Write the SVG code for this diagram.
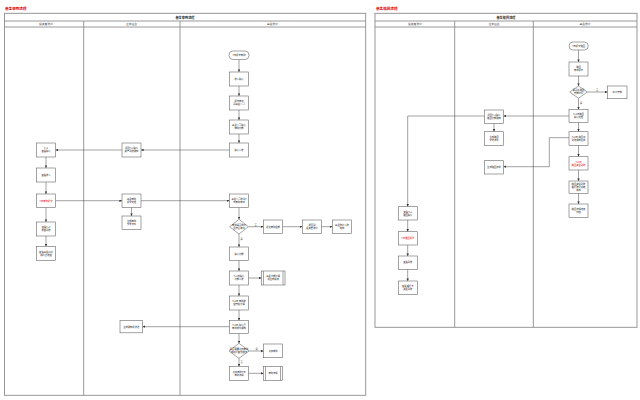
<svg xmlns="http://www.w3.org/2000/svg" width="640" height="400" viewBox="0 0 640 400">
<style>
text{font-family:"Noto Sans CJK SC","Noto Sans",sans-serif;fill:#222;text-anchor:middle}
.ttl{font-size:3.6px;fill:#e00000;text-anchor:start;font-weight:bold}
.hd{font-size:3.2px;font-weight:bold}
.ln{font-size:2.8px;fill:#444}
.t{font-size:2.3px}
.red{fill:#e00000}
.frame{fill:#fff;stroke:#8c8c8c;stroke-width:0.9}
.div{stroke:#8c8c8c;stroke-width:0.9}
.box{fill:#fff;stroke:#666;stroke-width:0.6}
.c{fill:none;stroke:#444;stroke-width:0.5;marker-end:url(#ah)}
.lb{font-size:2.2px;fill:#444}
</style>
<defs>
<marker id="ah" markerUnits="userSpaceOnUse" markerWidth="3" markerHeight="3" refX="2.6" refY="1.2" orient="auto">
<path d="M0,0 L2.6,1.2 L0,2.4 Z" fill="#333"/>
</marker>
</defs>
<rect width="640" height="400" fill="#fff"/>

<!-- Left swimlane frame -->
<g id="left-frame">
<text class="ttl" x="5" y="9.5">基金申购流程</text>
<rect class="frame" x="4.5" y="13.3" width="361.2" height="382"/>
<line class="div" x1="4.5" y1="21" x2="365.7" y2="21"/>
<line class="div" x1="4.5" y1="27" x2="365.7" y2="27"/>
<line class="div" x1="83.7" y1="21" x2="83.7" y2="395.3"/>
<line class="div" x1="180" y1="21" x2="180" y2="395.3"/>
<text class="hd" x="185" y="18.5">基金申购流程</text>
<text class="ln" x="46" y="25">投资者账户</text>
<text class="ln" x="131.5" y="25">业务后台</text>
<text class="ln" x="272.5" y="25">基金账户</text>
</g>

<!-- Right swimlane frame -->
<g id="right-frame">
<text class="ttl" x="376" y="9.5">基金赎回流程</text>
<rect class="frame" x="375" y="13.3" width="262" height="314"/>
<line class="div" x1="375" y1="21" x2="637" y2="21"/>
<line class="div" x1="375" y1="27" x2="637" y2="27"/>
<line class="div" x1="454.7" y1="21" x2="454.7" y2="327.3"/>
<line class="div" x1="533.3" y1="21" x2="533.3" y2="327.3"/>
<text class="hd" x="506" y="18.5">基金赎回流程</text>
<text class="ln" x="415" y="25">投资者账户</text>
<text class="ln" x="494" y="25">业务后台</text>
<text class="ln" x="585" y="25">基金账户</text>
</g>

<!-- Connectors -->
<g id="connectors">
<path class="c" d="M239,59.5 V72"/>
<path class="c" d="M239,86 V96"/>
<path class="c" d="M239,110 V120"/>
<path class="c" d="M239,134 V143"/>
<path class="c" d="M229.5,150 H141"/>
<path class="c" d="M122,150 H55.5"/>
<path class="c" d="M46,157 V168"/>
<path class="c" d="M46,182 V194"/>
<path class="c" d="M55.5,200.7 H122"/>
<path class="c" d="M141,200.7 H229.5"/>
<path class="c" d="M131.5,207.3 V216"/>
<path class="c" d="M46,207.3 V222"/>
<path class="c" d="M46,236 V246.5"/>
<path class="c" d="M239,207.3 V219.3"/>
<path class="c" d="M248.3,226.7 H263.5"/>
<path class="c" d="M282.5,226.7 H302.5"/>
<path class="c" d="M321.5,226.7 H332.5"/>
<path class="c" d="M239,234 V247"/>
<path class="c" d="M239,260.5 V271"/>
<path class="c" d="M248.5,278 H261.5"/>
<path class="c" d="M239,285 V296"/>
<path class="c" d="M239,310 V320.5"/>
<path class="c" d="M229.5,326.7 H142.5"/>
<path class="c" d="M239,333.3 V343.3"/>
<path class="c" d="M249,351 H263.5"/>
<path class="c" d="M239,358.3 V366.5"/>
<path class="c" d="M248.5,373.3 H263.5"/>
<text class="lb" x="255.5" y="225.8">否</text>
<text class="lb" x="241.5" y="240">是</text>
<text class="lb" x="256.5" y="350.2">是</text>
<text class="lb" x="241.5" y="362.5">否</text>

<path class="c" d="M578.5,50 V62"/>
<path class="c" d="M578.5,76 V86"/>
<path class="c" d="M587.3,92 H607.5"/>
<path class="c" d="M578.5,98.3 V109.5"/>
<path class="c" d="M569,116 H503.5"/>
<path class="c" d="M484.5,116 H407.7 V206.7"/>
<path class="c" d="M494,123 V131.7"/>
<path class="c" d="M578.5,122.5 V131.7"/>
<path class="c" d="M569,137.7 H549.3 V166.7 H503.5"/>
<path class="c" d="M578.5,145.3 V156.7"/>
<path class="c" d="M578.5,170 V181"/>
<path class="c" d="M578.5,193.5 V204"/>
<path class="c" d="M407.7,220 V231.7"/>
<path class="c" d="M407.7,245 V256"/>
<path class="c" d="M407.7,269.3 V281"/>
<text class="lb" x="597" y="91.2">否</text>
<text class="lb" x="581" y="104">是</text>
</g>

<!-- Left nodes -->
<g id="L-start"><rect class="box" x="229" y="51" width="20" height="8.5" rx="4"/><text class="t" x="239" y="56">T日提交申购</text></g>
<g id="L-b1"><rect class="box" x="229.5" y="72" width="19" height="14"/><text class="t" x="239" y="79.8">收入确认</text></g>
<g id="L-b2"><rect class="box" x="229.5" y="96" width="19" height="14"/><text class="t" x="239" y="102.4">提交申请</text><text class="t" x="239" y="105.4">到基金公司</text></g>
<g id="L-b3"><rect class="box" x="229.5" y="120" width="19" height="14"/><text class="t" x="239" y="126.4">基金公司确认</text><text class="t" x="239" y="129.4">申购份额</text></g>
<g id="L-b4"><rect class="box" x="229.5" y="143" width="19" height="14"/><text class="t" x="239" y="150.8">确认入账</text></g>
<g id="L-m1"><rect class="box" x="122" y="143" width="19" height="14"/><text class="t" x="131.5" y="149.4">返回T+1确认</text><text class="t" x="131.5" y="152.4">资产到账通知</text></g>
<g id="L-i1"><rect class="box" x="36.5" y="143" width="19" height="14"/><text class="t" x="46" y="149.4">T+1</text><text class="t" x="46" y="152.4">查看确认</text></g>
<g id="L-i2"><rect class="box" x="36.5" y="168" width="19" height="14"/><text class="t" x="46" y="175.8">查看收入</text></g>
<g id="L-i3"><rect class="box" x="36.5" y="194" width="19" height="13.3"/><text class="t red" x="46" y="201.5">T日申购提交</text></g>
<g id="L-i4"><rect class="box" x="36.5" y="222" width="19" height="14"/><text class="t" x="46" y="228.4">查看T+2</text><text class="t" x="46" y="231.4">收益到账</text></g>
<g id="L-i5"><rect class="box" x="36.5" y="246.5" width="19" height="13.8"/><text class="t" x="46" y="252.8">查看基金净值</text><text class="t" x="46" y="255.8">和持仓收益</text></g>
<g id="L-m2"><rect class="box" x="122" y="194" width="19" height="13.3"/><text class="t" x="131.5" y="200">基金申购</text><text class="t" x="131.5" y="203">提交处理</text></g>
<g id="L-m3"><rect class="box" x="122" y="216" width="19" height="13.3"/><text class="t" x="131.5" y="222">生成申购</text><text class="t" x="131.5" y="225">交易流水</text></g>
<g id="L-b5"><rect class="box" x="229.5" y="194" width="19" height="13.3"/><text class="t" x="239" y="200">基金公司收到T</text><text class="t" x="239" y="203">日申购申请</text></g>
<g id="L-d1"><path class="box" d="M239,219.3 L248.3,226.7 L239,234 L229.7,226.7 Z"/><text class="t" x="239" y="226">申购是否成功</text><text class="t" x="239" y="229">且符合条件</text></g>
<g id="L-b6"><rect class="box" x="263.5" y="220" width="19" height="13.3"/><text class="t" x="273" y="227.5">返还申购金额</text></g>
<g id="L-b7"><rect class="box" x="302.5" y="220" width="19" height="13.3"/><text class="t" x="312" y="226">退回到</text><text class="t" x="312" y="229">投资者账户</text></g>
<g id="L-b8"><rect class="box" x="332.5" y="220" width="19" height="13.3"/><text class="t" x="342" y="226">基金账户入账</text><text class="t" x="342" y="229">完成</text></g>
<g id="L-b9"><rect class="box" x="229.5" y="247" width="19" height="13.5"/><text class="t" x="239" y="254.6">确认份额</text></g>
<g id="L-b10"><rect class="box" x="229.5" y="271" width="19" height="14"/><text class="t" x="239" y="277.4">T+1日确认</text><text class="t" x="239" y="280.4">份额入账</text></g>
<g id="L-s1"><rect class="box" x="261.5" y="271" width="23.5" height="14"/><line class="box" x1="263.5" y1="271" x2="263.5" y2="285"/><line class="box" x1="283" y1="271" x2="283" y2="285"/><text class="t" x="273.2" y="277.4">基金份额计算</text><text class="t" x="273.2" y="280.4">并生成报表</text></g>
<g id="L-b11"><rect class="box" x="229.5" y="296" width="19" height="14"/><text class="t" x="239" y="302.4">T+2日 申购收</text><text class="t" x="239" y="305.4">益开始计算</text></g>
<g id="L-b12"><rect class="box" x="229.5" y="320.5" width="19" height="12.8"/><text class="t" x="239" y="326.3">T+2日 确认已</text><text class="t" x="239" y="329.3">申购成功通知</text></g>
<g id="L-m4"><rect class="box" x="120" y="320.5" width="22.5" height="12.3"/><text class="t" x="131.2" y="327.5">生成通知单发送</text></g>
<g id="L-d2"><path class="box" d="M239,343.3 L249,351 L239,358.3 L229,351 Z"/><text class="t" x="239" y="350.3">是否需要追加申购</text><text class="t" x="239" y="353.3">或进行其他操作</text></g>
<g id="L-b13"><rect class="box" x="263.5" y="344" width="19" height="13.7"/><text class="t" x="273" y="351.6">追加申购</text></g>
<g id="L-b14"><rect class="box" x="229.5" y="366.5" width="19" height="13.8"/><text class="t" x="239" y="372.8">追加申购T日</text><text class="t" x="239" y="375.8">申购流程</text></g>
<g id="L-s2"><rect class="box" x="263.5" y="366.5" width="19" height="13.8"/><line class="box" x1="265.5" y1="366.5" x2="265.5" y2="380.3"/><line class="box" x1="280.5" y1="366.5" x2="280.5" y2="380.3"/><text class="t" x="273" y="374.2">申购流程</text></g>

<!-- Right nodes -->
<g id="R-start"><rect class="box" x="569" y="42" width="19.3" height="8" rx="4"/><text class="t" x="578.6" y="46.8">T日提交赎回</text></g>
<g id="R-b1"><rect class="box" x="569" y="62" width="19" height="14"/><text class="t" x="578.5" y="68.4">赎回</text><text class="t" x="578.5" y="71.4">申请提交</text></g>
<g id="R-d1"><path class="box" d="M578.5,86 L587.3,92 L578.5,98.3 L569.7,92 Z"/><text class="t" x="578.5" y="91.3">是否在赎回</text><text class="t" x="578.5" y="94.3">开放时间</text></g>
<g id="R-b2"><rect class="box" x="607.5" y="86" width="19.5" height="12.7"/><text class="t" x="617.2" y="93.2">等待开放</text></g>
<g id="R-b3"><rect class="box" x="569" y="109.5" width="19" height="13"/><text class="t" x="578.5" y="115.4">T+1日赎回</text><text class="t" x="578.5" y="118.4">确认处理</text></g>
<g id="R-m1"><rect class="box" x="484.5" y="110" width="19" height="13.3"/><text class="t" x="494" y="116">返回T+1确认</text><text class="t" x="494" y="119">赎回份额通知</text></g>
<g id="R-m2"><rect class="box" x="484.5" y="131.7" width="19" height="13.6"/><text class="t" x="494" y="137.8">生成赎回</text><text class="t" x="494" y="140.8">交易流水</text></g>
<g id="R-m3"><rect class="box" x="484.5" y="160.7" width="19" height="13.3"/><text class="t" x="494" y="168.1">生成赎回清单</text></g>
<g id="R-b4"><rect class="box" x="569" y="131.7" width="19" height="13.6"/><text class="t" x="578.5" y="137.8">T+2日 赎回款</text><text class="t" x="578.5" y="140.8">到账通知生成</text></g>
<g id="R-b5"><rect class="box" x="569" y="156.7" width="19" height="13.3"/><text class="t red" x="578.5" y="162.6">T+2日</text><text class="t red" x="578.5" y="165.6">赎回资金到账</text></g>
<g id="R-b6"><rect class="box" x="569" y="181" width="19" height="12.5"/><text class="t" x="578.5" y="185.2">赎回资金到账</text><text class="t" x="578.5" y="188">银行账户划转</text><text class="t" x="578.5" y="190.8">完成</text></g>
<g id="R-b7"><rect class="box" x="569" y="204" width="19" height="13.3"/><text class="t" x="578.5" y="210">赎回流程结束</text><text class="t" x="578.5" y="213">归档</text></g>
<g id="R-i1"><rect class="box" x="398.3" y="206.7" width="19" height="13.3"/><text class="t" x="407.8" y="212.7">查看T+1</text><text class="t" x="407.8" y="215.7">赎回确认</text></g>
<g id="R-i2"><rect class="box" x="398.3" y="231.7" width="19" height="13.3"/><text class="t red" x="407.8" y="239.1">T日赎回提交</text></g>
<g id="R-i3"><rect class="box" x="398.3" y="256" width="19" height="13.3"/><text class="t" x="407.8" y="263.4">查看到账</text></g>
<g id="R-i4"><rect class="box" x="398.3" y="281" width="19" height="13.3"/><text class="t" x="407.8" y="287">查看银行卡</text><text class="t" x="407.8" y="290">资金到账</text></g>
</svg>
